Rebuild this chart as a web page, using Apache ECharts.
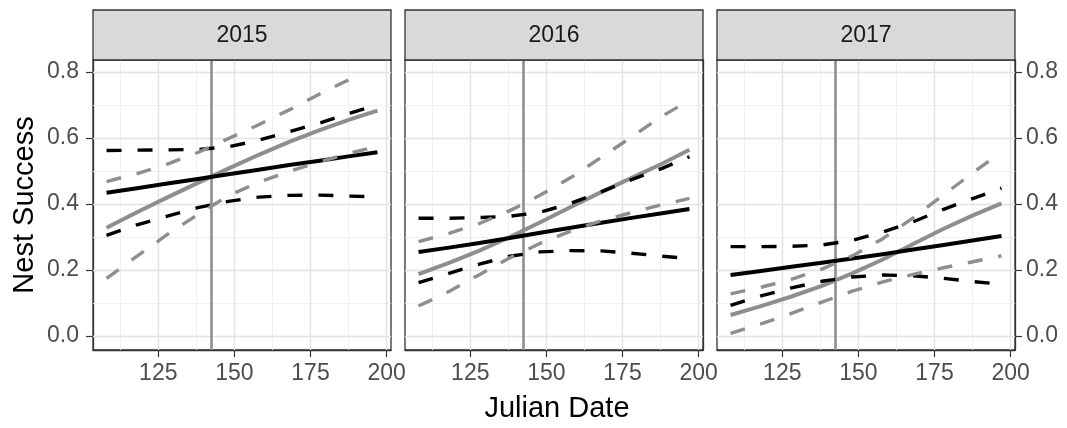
<!DOCTYPE html>
<html>
<head>
<meta charset="utf-8">
<script src="https://cdn.jsdelivr.net/npm/echarts@6/dist/echarts.min.js"></script>
<style>
  html, body { margin: 0; padding: 0; background: #ffffff; }
  #chart { width: 1067px; height: 428px; }
</style>
</head>
<body>
<div id="chart"></div>
<script>
// ---- data -------------------------------------------------------------
const YEARS = ['2015', '2016', '2017'];
const JULIAN_DATES = [108, 118, 128, 138, 148, 158, 168, 178, 188, 197];
const MEAN_DATE = 142.5;

const X_TICKS = [125, 150, 175, 200];
const X_MINOR = [112.5, 137.5, 162.5, 187.5];
const Y_TICKS = [0, 0.2, 0.4, 0.6, 0.8];
const Y_MINOR = [0.1, 0.3, 0.5, 0.7];

// black model: predicted nest success with lower / upper confidence limits
const blackFit2015 = [0.434, 0.448, 0.462, 0.476, 0.490, 0.504, 0.518, 0.531, 0.545, 0.557];
const blackLo2015  = [0.305, 0.337, 0.363, 0.389, 0.408, 0.421, 0.426, 0.427, 0.424, 0.422];
const blackHi2015  = [0.562, 0.563, 0.564, 0.565, 0.573, 0.593, 0.619, 0.645, 0.675, 0.700];
const blackFit2016 = [0.255, 0.268, 0.282, 0.297, 0.313, 0.328, 0.343, 0.358, 0.372, 0.385];
const blackLo2016  = [0.162, 0.190, 0.218, 0.242, 0.255, 0.259, 0.258, 0.251, 0.242, 0.235];
const blackHi2016  = [0.357, 0.357, 0.359, 0.363, 0.375, 0.402, 0.437, 0.474, 0.508, 0.543];
const blackFit2017 = [0.185, 0.197, 0.210, 0.222, 0.235, 0.248, 0.262, 0.276, 0.290, 0.303];
const blackLo2017  = [0.093, 0.122, 0.146, 0.166, 0.179, 0.185, 0.183, 0.175, 0.165, 0.157];
const blackHi2017  = [0.271, 0.271, 0.272, 0.276, 0.290, 0.315, 0.346, 0.384, 0.418, 0.448];

// grey model: predicted nest success with lower / upper confidence limits
const greyFit2015 = [0.328, 0.375, 0.420, 0.464, 0.507, 0.549, 0.588, 0.624, 0.656, 0.683];
const greyLo2015  = [0.175, 0.242, 0.308, 0.368, 0.425, 0.466, 0.499, 0.528, 0.554, 0.575];
const greyHi2015  = [0.468, 0.492, 0.521, 0.556, 0.598, 0.640, 0.685, 0.733, 0.778, null];
const greyFit2016 = [0.188, 0.222, 0.259, 0.300, 0.345, 0.391, 0.436, 0.479, 0.522, 0.564];
const greyLo2016  = [0.091, 0.135, 0.186, 0.237, 0.281, 0.318, 0.349, 0.374, 0.398, 0.417];
const greyHi2016  = [0.286, 0.311, 0.341, 0.380, 0.427, 0.480, 0.541, 0.603, 0.666, 0.714];
const greyFit2017 = [0.064, 0.091, 0.120, 0.152, 0.190, 0.232, 0.279, 0.325, 0.367, 0.402];
const greyLo2017  = [0.008, 0.037, 0.069, 0.103, 0.136, 0.164, 0.187, 0.207, 0.226, 0.243];
const greyHi2017  = [0.128, 0.148, 0.172, 0.203, 0.243, 0.295, 0.358, 0.428, 0.497, 0.558];

const PANEL_DATA = [
  { blackFit: blackFit2015, blackLo: blackLo2015, blackHi: blackHi2015,
    greyFit: greyFit2015, greyLo: greyLo2015, greyHi: greyHi2015 },
  { blackFit: blackFit2016, blackLo: blackLo2016, blackHi: blackHi2016,
    greyFit: greyFit2016, greyLo: greyLo2016, greyHi: greyHi2016 },
  { blackFit: blackFit2017, blackLo: blackLo2017, blackHi: blackHi2017,
    greyFit: greyFit2017, greyLo: greyLo2017, greyHi: greyHi2017 }
];

// ---- layout & style ---------------------------------------------------
const X_MIN = 103.55, X_MAX = 201.45;   // date range padded by 5 %
const Y_MIN = -0.042, Y_MAX = 0.836;     // probability range padded by 5 %

const PANEL_LEFT = [93, 405, 717];
const PANEL_W = 298;
const PANEL_TOP = 60;
const PANEL_H = 290;
const STRIP_TOP = 10;
const STRIP_H = 50;

const FONT = "'Liberation Sans', Arial, sans-serif";
const BLACK = '#000000';
const GREY = '#8e8e8e';
const BORDER = '#333333';
const SOLID_W = 4;
const DASH_W = 3.4;
const DASH = [15, 16];

function pairs(values) {
  return JULIAN_DATES.map((d, i) => [d, values[i]]);
}

const grids = [], xAxes = [], yAxes = [], series = [], graphics = [];

YEARS.forEach((year, p) => {
  grids.push({
    left: PANEL_LEFT[p], top: PANEL_TOP, width: PANEL_W, height: PANEL_H,
    show: true, backgroundColor: '#ffffff',
    borderColor: BORDER, borderWidth: 1.3, containLabel: false
  });

  xAxes.push({
    type: 'value', gridIndex: p, min: X_MIN, max: X_MAX,
    axisLine: { show: true, onZero: false, lineStyle: { color: BORDER, width: 1.3 } },
    axisTick: { show: true, customValues: X_TICKS, length: 7,
                lineStyle: { color: BORDER, width: 1.2 } },
    axisLabel: { show: true, customValues: X_TICKS, margin: 12,
                 fontSize: 23, color: '#4d4d4d', fontFamily: FONT },
    splitLine: { show: false }
  });

  const side = p === 0 ? 'left' : 'right';
  const showY = p === 0 || p === YEARS.length - 1;
  yAxes.push({
    type: 'value', gridIndex: p, min: Y_MIN, max: Y_MAX, position: side,
    axisLine: { show: true, onZero: false, lineStyle: { color: BORDER, width: 1.3 } },
    axisTick: { show: showY, customValues: Y_TICKS, length: 7,
                lineStyle: { color: BORDER, width: 1.2 } },
    axisLabel: { show: showY, customValues: Y_TICKS, margin: p === 0 ? 14 : 11,
                 fontSize: 23, color: '#4d4d4d', fontFamily: FONT,
                 formatter: v => v.toFixed(1) },
    splitLine: { show: false }
  });

  // panel grid lines and the mean-date reference line
  const gridLines = [];
  X_MINOR.forEach(v => gridLines.push({ xAxis: v, lineStyle: { color: '#efefef', width: 0.9, type: 'solid' } }));
  Y_MINOR.forEach(v => gridLines.push({ yAxis: v, lineStyle: { color: '#efefef', width: 0.9, type: 'solid' } }));
  X_TICKS.forEach(v => gridLines.push({ xAxis: v, lineStyle: { color: '#e2e2e2', width: 1.4, type: 'solid' } }));
  Y_TICKS.forEach(v => gridLines.push({ yAxis: v, lineStyle: { color: '#e2e2e2', width: 1.4, type: 'solid' } }));
  series.push({
    type: 'line', xAxisIndex: p, yAxisIndex: p, data: [], silent: true, z: 1,
    markLine: { silent: true, symbol: 'none', animation: false, z: 1,
                label: { show: false }, emphasis: { disabled: true }, data: gridLines }
  });
  series.push({
    type: 'line', xAxisIndex: p, yAxisIndex: p, data: [], silent: true, z: 2,
    markLine: { silent: true, symbol: 'none', animation: false, z: 2,
                label: { show: false }, emphasis: { disabled: true },
                data: [{ xAxis: MEAN_DATE, lineStyle: { color: GREY, width: 2.6, type: 'solid' } }] }
  });

  const d = PANEL_DATA[p];
  const line = (vals, color, width, dashed, z) => ({
    type: 'line', xAxisIndex: p, yAxisIndex: p, data: pairs(vals),
    showSymbol: false, symbol: 'none', smooth: false,
    silent: true, animation: false, z: z,
    lineStyle: { color: color, width: width, type: dashed ? DASH : 'solid',
                 cap: 'butt', join: 'round' }
  });
  series.push(line(d.greyFit, GREY, SOLID_W, false, 3));
  series.push(line(d.blackFit, BLACK, SOLID_W, false, 4));
  series.push(line(d.blackLo, BLACK, DASH_W, true, 5));
  series.push(line(d.blackHi, BLACK, DASH_W, true, 5));
  series.push(line(d.greyLo, GREY, DASH_W, true, 6));
  series.push(line(d.greyHi, GREY, DASH_W, true, 6));

  // facet strip
  graphics.push({
    type: 'rect', silent: true, z: 10,
    shape: { x: PANEL_LEFT[p], y: STRIP_TOP, width: PANEL_W, height: STRIP_H },
    style: { fill: '#d9d9d9', stroke: BORDER, lineWidth: 1.3 }
  });
  graphics.push({
    type: 'text', silent: true, z: 11,
    x: PANEL_LEFT[p] + PANEL_W / 2, y: STRIP_TOP + STRIP_H / 2 + 1,
    style: { text: year, fill: '#1a1a1a', font: '23px ' + FONT,
             textAlign: 'center', textVerticalAlign: 'middle' }
  });
});

// axis titles
graphics.push({
  type: 'text', silent: true, x: 557, y: 409,
  style: { text: 'Julian Date', fill: '#000000', font: '29px ' + FONT,
           textAlign: 'center', textVerticalAlign: 'middle' }
});
graphics.push({
  type: 'text', silent: true, x: 25, y: 205, rotation: Math.PI / 2,
  style: { text: 'Nest Success', fill: '#000000', font: '29px ' + FONT,
           textAlign: 'center', textVerticalAlign: 'middle' }
});

const chart = echarts.init(document.getElementById('chart'), null, { renderer: 'canvas' });
chart.setOption({
  animation: false,
  backgroundColor: '#ffffff',
  grid: grids,
  xAxis: xAxes,
  yAxis: yAxes,
  series: series,
  graphic: graphics
});
</script>
</body>
</html>
